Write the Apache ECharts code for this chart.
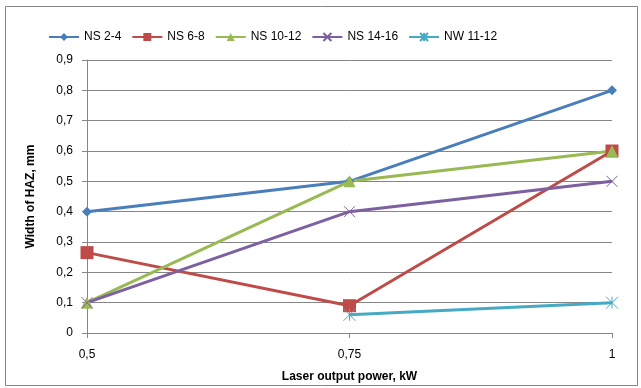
<!DOCTYPE html>
<html>
<head>
<meta charset="utf-8">
<script src="https://cdn.jsdelivr.net/npm/echarts@6/dist/echarts.min.js"></script>
<style>
html,body{margin:0;padding:0;background:#fff;}
#chart{width:641px;height:388px;}
</style>
</head>
<body>
<div id="chart"></div>
<script>
// Laser output power (kW) on the x axis
const powers = ['0,5', '0,75', '1'];
// HAZ width (mm) per steel grade
const ns24 = [0.4, 0.5, 0.8];
const ns68 = [0.265, 0.09, 0.6];
const ns1012 = [0.1, 0.5, 0.6];
const ns1416 = [0.1, 0.4, 0.5];
const nw1112 = [null, 0.06, 0.1];
const seriesNames = ['NS 2-4', 'NS 6-8', 'NS 10-12', 'NS 14-16', 'NW 11-12'];
const colors = ['#4a7ebb', '#be4b48', '#98b954', '#7d60a0', '#46aac5'];

const xMark = 'path://M0,0L10,10M10,0L0,10';
const starMark = 'path://M0,0L10,10M10,0L0,10M5,0L5,10';

const font = '"Liberation Sans", Arial, sans-serif';

function line(name, data, color, symbol, size) {
  return {
    name: name,
    type: 'line',
    data: data,
    symbol: symbol,
    symbolSize: size,
    connectNulls: false,
    lineStyle: { color: color, width: 3 },
    itemStyle: { color: color, borderColor: color, borderWidth: (symbol === xMark || symbol === starMark) ? 1 : 0 },
    emphasis: { disabled: true }
  };
}

const chart = echarts.init(document.getElementById('chart'));
chart.setOption({
  animation: false,
  graphic: [{
    type: 'rect',
    shape: { x: 5.5, y: 6.5, width: 632, height: 379 },
    style: { fill: 'none', stroke: '#868686', lineWidth: 1 }
  }],
  legend: {
    top: 26,
    left: 43,
    itemWidth: 30,
    itemHeight: 10,
    itemGap: 10,
    textStyle: { fontFamily: font, fontSize: 12, color: '#000' },
    data: seriesNames
  },
  grid: { left: 87, right: 29, top: 60, bottom: 55, containLabel: false },
  xAxis: {
    type: 'category',
    data: powers,
    boundaryGap: false,
    name: 'Laser output power, kW',
    nameLocation: 'middle',
    nameGap: 38,
    nameTextStyle: { fontFamily: font, fontSize: 12, fontWeight: 'bold', color: '#000' },
    axisLine: { lineStyle: { color: '#868686' } },
    axisTick: { show: true, length: 5, lineStyle: { color: '#868686' } },
    axisLabel: { fontFamily: font, fontSize: 12, color: '#000', margin: 16 },
    splitLine: { show: false }
  },
  yAxis: {
    type: 'value',
    min: 0,
    max: 0.9,
    interval: 0.1,
    name: 'Width of HAZ, mm',
    nameLocation: 'middle',
    nameGap: 50,
    nameRotate: 90,
    nameTextStyle: { fontFamily: font, fontSize: 12, fontWeight: 'bold', color: '#000' },
    axisLine: { show: true, lineStyle: { color: '#868686' } },
    axisTick: { show: true, length: 5, lineStyle: { color: '#868686' } },
    axisLabel: {
      fontFamily: font, fontSize: 12, color: '#000', margin: 14,
      formatter: v => (Math.round(v * 10) / 10).toString().replace('.', ',')
    },
    splitLine: { lineStyle: { color: '#868686', width: 1 } }
  },
  series: [
    line(seriesNames[0], ns24, colors[0], 'diamond', 10),
    line(seriesNames[1], ns68, colors[1], 'rect', 13),
    line(seriesNames[2], ns1012, colors[2], 'triangle', 12),
    line(seriesNames[3], ns1416, colors[3], xMark, 11),
    line(seriesNames[4], nw1112, colors[4], starMark, 12)
  ]
});
</script>
</body>
</html>
